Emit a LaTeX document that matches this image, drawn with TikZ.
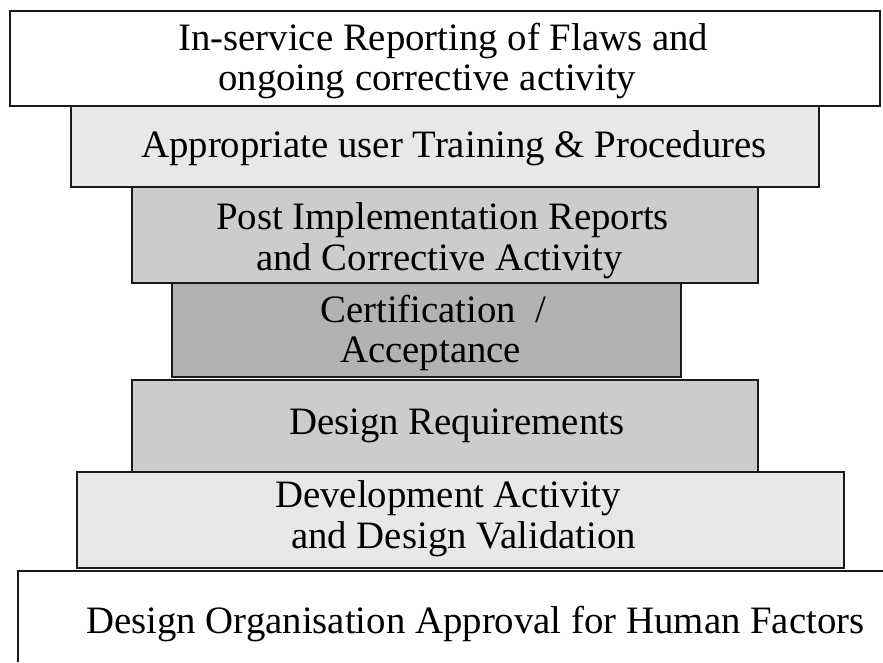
\documentclass[tikz,border=0pt]{standalone}
\usepackage{fontspec}
\setmainfont{Liberation Serif}
\definecolor{paleGrey}{HTML}{E8E8E8}
\definecolor{midGrey}{HTML}{CCCCCC}
\definecolor{darkGrey}{HTML}{B2B2B2}
\definecolor{edge}{HTML}{1A1A1A}
\begin{document}
\begin{tikzpicture}[x=1pt,y=-1pt,
  tier/.style={draw=edge, line width=1.6pt, rectangle, inner sep=0pt},
  caption/.style={anchor=base west, inner sep=0pt, font=\fontsize{38.8}{41}\selectfont}]
\useasboundingbox (0,0) rectangle (883,662);
% stacked tiers, top to bottom
\node[tier, fill=white,    minimum width=870pt, minimum height=95pt] (t1) at (445,58.5) {};
\node[tier, fill=paleGrey, minimum width=748pt, minimum height=81pt] (t2) at (445,146.5) {};
\node[tier, fill=midGrey,  minimum width=626pt, minimum height=96pt] (t3) at (445,235) {};
\node[tier, fill=darkGrey, minimum width=509pt, minimum height=94pt] (t4) at (426.5,330) {};
\node[tier, fill=midGrey,  minimum width=626pt, minimum height=92pt] (t5) at (445,426) {};
\node[tier, fill=paleGrey, minimum width=767pt, minimum height=96pt] (t6) at (460.5,520) {};
% open base tier
\coordinate (b0) at (18,662);
\coordinate (b1) at (18,571);
\coordinate (b2) at (883,571);
\draw[draw=edge, line width=1.6pt] (b0) -- (b1) -- (b2);
% captions
\node[caption] (c1a) at (178,50) {In-service Reporting of Flaws and};
\node[caption] (c1b) at (218,90) {ongoing corrective activity};
\node[caption] (c2)  at (141,157) {Appropriate user Training \& Procedures};
\node[caption] (c3a) at (216,229) {Post Implementation Reports};
\node[caption] (c3b) at (256,270) {and Corrective Activity};
\node[caption] (c4a) at (320,322) {Certification\ \ /};
\node[caption] (c4b) at (340,362) {Acceptance};
\node[caption] (c5)  at (289,434) {Design Requirements};
\node[caption] (c6a) at (275,507) {Development Activity};
\node[caption] (c6b) at (291,548) {and Design Validation};
\node[caption] (c7)  at (86,633) {Design Organisation Approval for Human Factors};
\end{tikzpicture}
\end{document}
